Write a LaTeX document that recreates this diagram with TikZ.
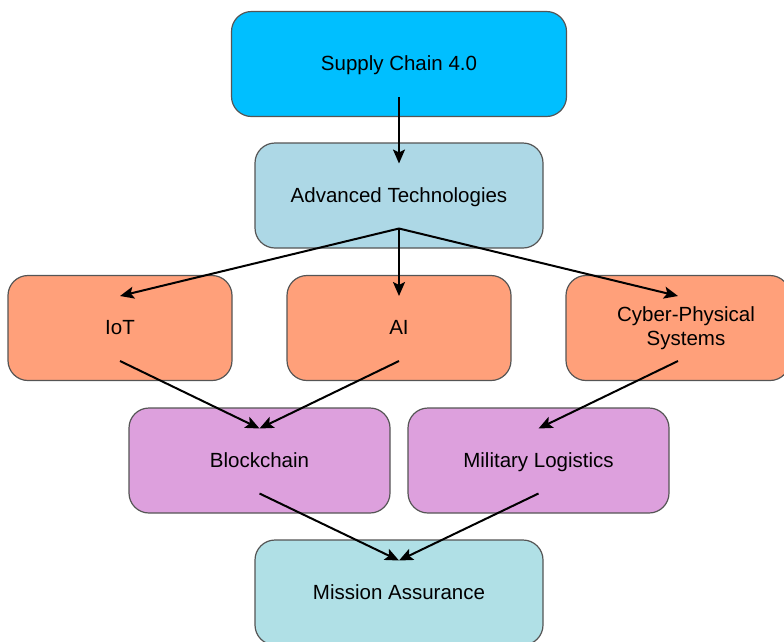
\documentclass[tikz,border=0pt]{standalone}
\usepackage{fontspec}
\setmainfont{Liberation Sans}
\usetikzlibrary{arrows.meta}
\definecolor{cSC}{HTML}{00BFFF}
\definecolor{cAD}{HTML}{ADD8E6}
\definecolor{cOR}{HTML}{FFA07A}
\definecolor{cPU}{HTML}{DDA0DD}
\definecolor{cMA}{HTML}{B0E0E6}
\definecolor{cBD}{HTML}{555555}
\tikzset{
  box/.style={draw=cBD, line width=1.2pt, rounded corners=20pt, inner sep=0pt,
    minimum height=105pt, font=\fontsize{20.5}{24}\selectfont, align=center,
    text height=16pt, text depth=3pt},
  arr/.style={line width=2pt, -{Stealth[length=14pt,width=12pt,inset=3pt]}},
  lbl/.style={inner sep=0pt, font=\fontsize{20.5}{24}\selectfont, align=center}
}
\begin{document}
\begin{tikzpicture}[x=1pt,y=-1pt]
\useasboundingbox (0,0) rectangle (784,641);
\node[box, fill=cSC, minimum width=335pt] (sc) at (399,64) {Supply Chain 4.0};
\node[box, fill=cAD, minimum width=288pt] (ad) at (399,195.5) {Advanced Technologies};
\node[box, fill=cOR, minimum width=224pt] (iot) at (120,328) {IoT};
\node[box, fill=cOR, minimum width=224pt] (ai) at (399,328) {AI};
\node[box, fill=cOR, minimum width=224pt] (cps) at (678,328) {};
\node[lbl] (cpst) at (686,328) {Cyber-Physical\\Systems};
\node[box, fill=cPU, minimum width=261pt] (bc) at (259.5,460.5) {Blockchain};
\node[box, fill=cPU, minimum width=261pt] (ml) at (538.5,460.5) {Military Logistics};
\node[box, fill=cMA, minimum width=288pt] (ma) at (399,592.5) {Mission Assurance};
\draw[arr] ([yshift=-33pt]sc.center) -- ([yshift=32pt]ad.center);
\draw[arr] ([yshift=-33pt]ad.center) -- ([yshift=32pt]iot.center);
\draw[arr] ([yshift=-33pt]ad.center) -- ([yshift=32pt]ai.center);
\draw[arr] ([yshift=-33pt]ad.center) -- ([yshift=32pt]cps.center);
\draw[arr] ([yshift=-33pt]iot.center) -- ([yshift=32pt]bc.center);
\draw[arr] ([yshift=-33pt]ai.center) -- ([yshift=32pt]bc.center);
\draw[arr] ([yshift=-33pt]cps.center) -- ([yshift=32pt]ml.center);
\draw[arr] ([yshift=-33pt]bc.center) -- ([yshift=32pt]ma.center);
\draw[arr] ([yshift=-33pt]ml.center) -- ([yshift=32pt]ma.center);
\end{tikzpicture}
\end{document}
